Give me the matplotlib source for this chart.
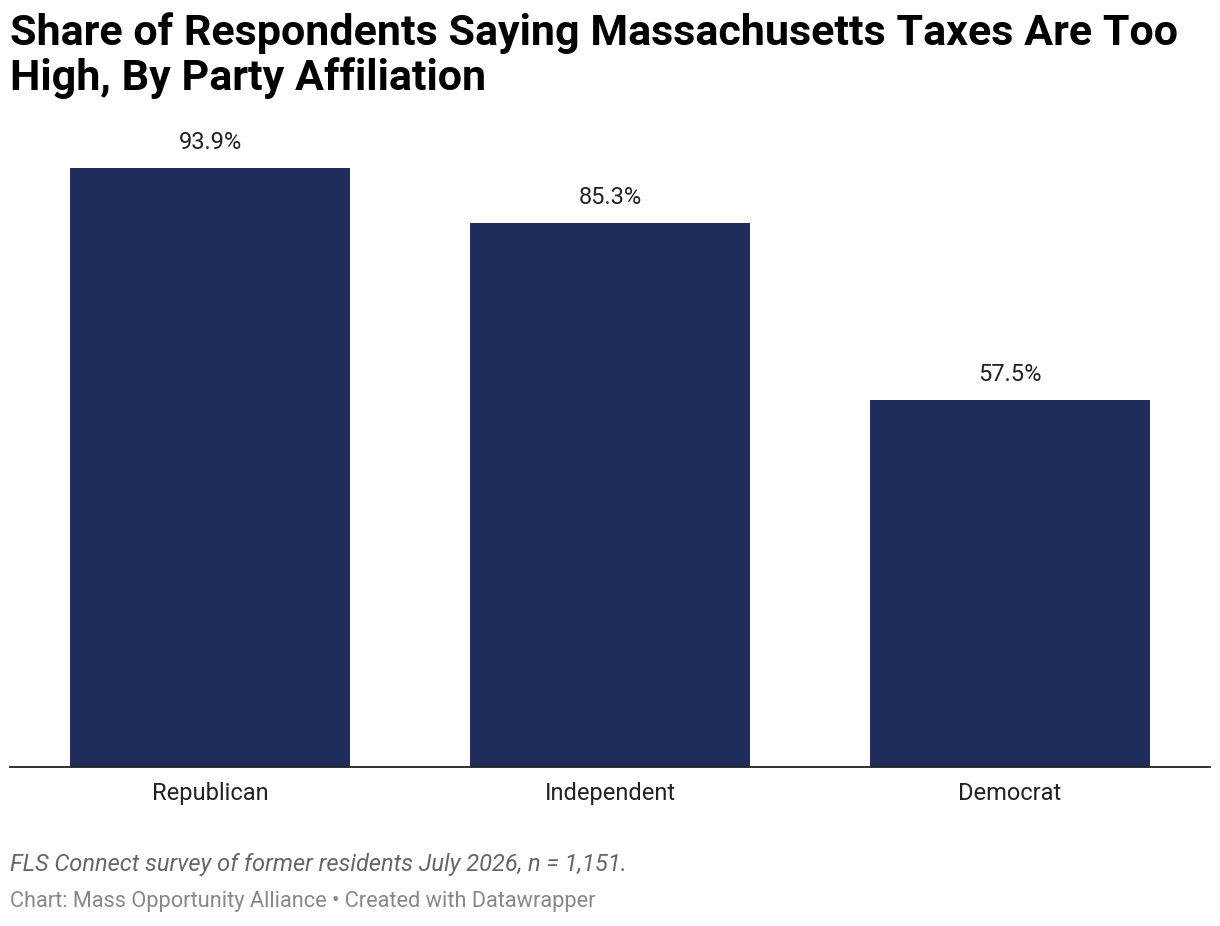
import matplotlib
matplotlib.use("Agg")
import matplotlib.pyplot as plt

parties = ["Republican", "Independent", "Democrat"]
shares = [93.9, 85.3, 57.5]

plt.rcParams["font.family"] = ["Roboto", "DejaVu Sans"]

fig = plt.figure(figsize=(12.2, 9.26), dpi=100)
ax = fig.add_axes([10 / 1220, 159 / 926, 1200 / 1220, 638 / 926])
x = range(len(parties))
bars = ax.bar(x, shares, width=0.7, color="#1f2d5a")
for xi, v in zip(x, shares):
    ax.text(xi, v + 2.2, f"{v:.1f}%", ha="center", va="bottom", fontsize=17, color="#222222")

ax.set_xlim(-0.5, 2.5)
ax.set_ylim(0, 100)
ax.set_yticks([])
ax.set_xticks(list(x))
ax.set_xticklabels(parties, fontsize=17, color="#222222")
ax.tick_params(axis="x", length=0, pad=11)
for s in ["top", "right", "left"]:
    ax.spines[s].set_visible(False)
ax.spines["bottom"].set_color("#222222")
ax.spines["bottom"].set_linewidth(1.3)

fig.text(10 / 1220, 1 - 12 / 926,
         "Share of Respondents Saying Massachusetts Taxes Are Too\nHigh, By Party Affiliation",
         ha="left", va="top", fontsize=31, fontweight="bold", color="#000000", linespacing=1.1)
fig.text(10 / 1220, 1 - 865 / 926, "FLS Connect survey of former residents July 2026, n = 1,151.",
         ha="left", va="center", fontsize=17, style="italic", color="#666666")
fig.text(10 / 1220, 1 - 902 / 926, "Chart: Mass Opportunity Alliance • Created with Datawrapper",
         ha="left", va="center", fontsize=15.7, color="#888888")

fig.savefig("out.png", dpi=100)
